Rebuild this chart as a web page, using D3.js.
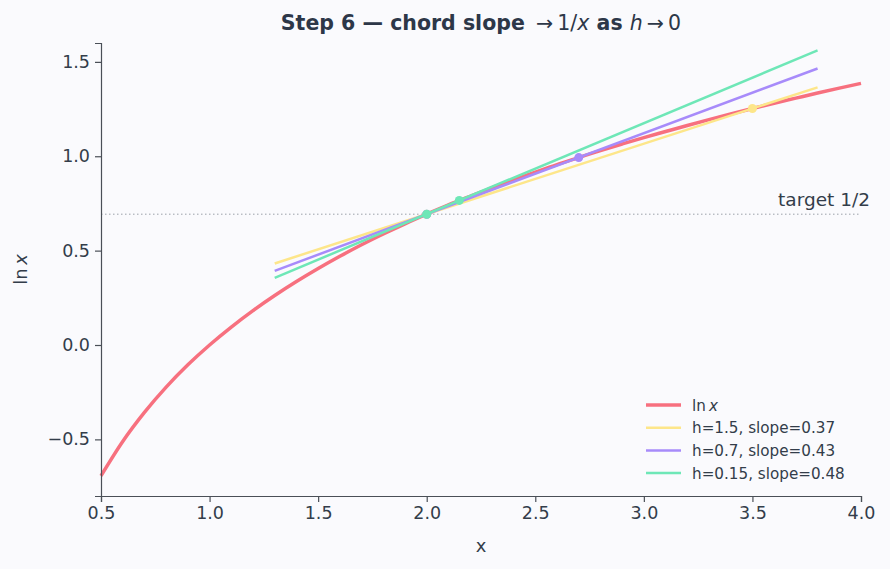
<!DOCTYPE html>
<html>
<head>
<meta charset="utf-8">
<script src="https://cdn.jsdelivr.net/npm/d3@7"></script>
<style>
  body { margin: 0; background: #fafafd; }
  svg { font-family: "DejaVu Sans", sans-serif; }
  .axis path, .axis line { stroke: #4a4f57; stroke-width: 1.2; }
  .axis text { fill: #333d4a; font-size: 17.5px; font-family: "DejaVu Sans", sans-serif; }
</style>
</head>
<body>
<div id="container"></div>
<script>
const curveX = [0.5,0.6,0.7,0.8,0.9,1.0,1.1,1.2,1.3,1.4,1.5,1.6,1.7,1.8,1.9,2.0,2.1,2.2,2.3,2.4,2.5,2.6,2.7,2.8,2.9,3.0,3.1,3.2,3.3,3.4,3.5,3.6,3.7,3.8,3.9,4.0];
const curveY = [-0.693,-0.511,-0.357,-0.223,-0.105,0.0,0.095,0.182,0.262,0.336,0.405,0.470,0.531,0.588,0.642,0.693,0.742,0.788,0.833,0.875,0.916,0.956,0.993,1.030,1.065,1.099,1.131,1.163,1.194,1.224,1.253,1.281,1.308,1.335,1.361,1.386];

// chords through (2, ln2) and (2+h, ln(2+h))
const chordNames = ["h=1.5, slope=0.37", "h=0.7, slope=0.43", "h=0.15, slope=0.48"];
const chordColors = ["#fde68a", "#a78bfa", "#6ee7b7"];
const chordX = [1.3, 3.8];
const chordY = [[0.432, 1.365], [0.393, 1.465], [0.356, 1.561]];
const chordDotX = [[2.0, 3.5], [2.0, 2.7], [2.0, 2.15]];
const chordDotY = [[0.693, 1.253], [0.693, 0.993], [0.693, 0.766]];

const targetY = 0.693;
const xTicks = [0.5,1.0,1.5,2.0,2.5,3.0,3.5,4.0];
const yTicks = [-0.5,0.0,0.5,1.0,1.5];

const w = 890, h = 569;
const m = {left: 101, right: 29, top: 43, bottom: 73};

const svg = d3.select("#container").append("svg")
  .attr("width", w).attr("height", h);
svg.append("rect").attr("width", w).attr("height", h).attr("fill", "#fafafd");

const x = d3.scaleLinear().domain([0.5, 4.0]).range([m.left, w - m.right]);
const y = d3.scaleLinear().domain([-0.8, 1.6]).range([h - m.bottom, m.top]);

// target line
svg.append("line")
  .attr("x1", x(0.5)).attr("x2", x(4.0))
  .attr("y1", y(targetY)).attr("y2", y(targetY))
  .attr("stroke", "#9aa0a8").attr("stroke-width", 1)
  .attr("stroke-dasharray", "1.5,2.5");
svg.append("text")
  .attr("x", 870).attr("y", y(targetY) - 8)
  .attr("text-anchor", "end")
  .attr("fill", "#333d4a").attr("font-size", 18.5)
  .text("target 1/2");

const line = d3.line().x(d => x(d[0])).y(d => y(d[1]));

// ln x curve
svg.append("path")
  .datum(curveX.map((v, i) => [v, curveY[i]]))
  .attr("d", line.curve(d3.curveMonotoneX))
  .attr("fill", "none").attr("stroke", "#f7707f").attr("stroke-width", 3.5)
  .attr("stroke-linecap", "butt");

const straight = d3.line().x(d => x(d[0])).y(d => y(d[1]));
chordNames.forEach((name, i) => {
  svg.append("path")
    .datum(chordX.map((v, j) => [v, chordY[i][j]]))
    .attr("d", straight)
    .attr("fill", "none").attr("stroke", chordColors[i]).attr("stroke-width", 2.5);
  svg.selectAll(".dot" + i)
    .data(chordDotX[i].map((v, j) => [v, chordDotY[i][j]]))
    .enter().append("circle")
    .attr("cx", d => x(d[0])).attr("cy", d => y(d[1]))
    .attr("r", 4.5).attr("fill", chordColors[i]);
});

// axes
svg.append("g").attr("class", "axis")
  .attr("transform", "translate(0," + (h - m.bottom) + ")")
  .call(d3.axisBottom(x).tickValues(xTicks).tickFormat(d3.format(".1f")).tickSizeOuter(0).tickSize(6).tickPadding(5));
svg.append("g").attr("class", "axis")
  .attr("transform", "translate(" + m.left + ",0)")
  .call(d3.axisLeft(y).tickValues(yTicks).tickFormat(d => d3.format(".1f")(d).replace("-", "\u2212")).tickSizeOuter(0).tickSize(6).tickPadding(5));

// axis labels
svg.append("text")
  .attr("x", x(2.25)).attr("y", 552)
  .attr("text-anchor", "middle").attr("fill", "#333d4a").attr("font-size", 18)
  .text("x");
const yl = svg.append("text")
  .attr("transform", "translate(27," + y(0.4) + ") rotate(-90)")
  .attr("text-anchor", "middle").attr("fill", "#333d4a").attr("font-size", 18);
yl.append("tspan").text("ln\u2009");
yl.append("tspan").attr("font-style", "italic").text("x");

// title
const t = svg.append("text")
  .attr("x", x(2.25)).attr("y", 30)
  .attr("text-anchor", "middle").attr("fill", "#2d3748").attr("font-size", 20.5)
  .attr("font-weight", "bold");
t.append("tspan").text("Step 6 \u2014 chord slope ");
t.append("tspan").attr("font-weight", "normal").text("\u2009\u2192\u20091/");
t.append("tspan").attr("font-weight", "normal").attr("font-style", "italic").text("x");
t.append("tspan").text(" as ");
t.append("tspan").attr("font-weight", "normal").attr("font-style", "italic").text("h");
t.append("tspan").attr("font-weight", "normal").text("\u2009\u2192\u20090");

// legend
const legNames = ["ln x"].concat(chordNames);
const legColors = ["#f7707f"].concat(chordColors);
const leg = svg.append("g").attr("transform", "translate(646,405)");
legNames.forEach((name, i) => {
  const g = leg.append("g").attr("transform", "translate(0," + (i * 22.7) + ")");
  g.append("line").attr("x1", 0).attr("x2", 35).attr("y1", 0).attr("y2", 0)
    .attr("stroke", legColors[i]).attr("stroke-width", i === 0 ? 3.5 : 2.5);
  const tx = g.append("text").attr("x", 46).attr("y", 5.5)
    .attr("fill", "#333d4a").attr("font-size", 15.2);
  if (i === 0) {
    tx.append("tspan").text("ln\u2009");
    tx.append("tspan").attr("font-style", "italic").text("x");
  } else {
    tx.text(name);
  }
});
</script>
</body>
</html>
